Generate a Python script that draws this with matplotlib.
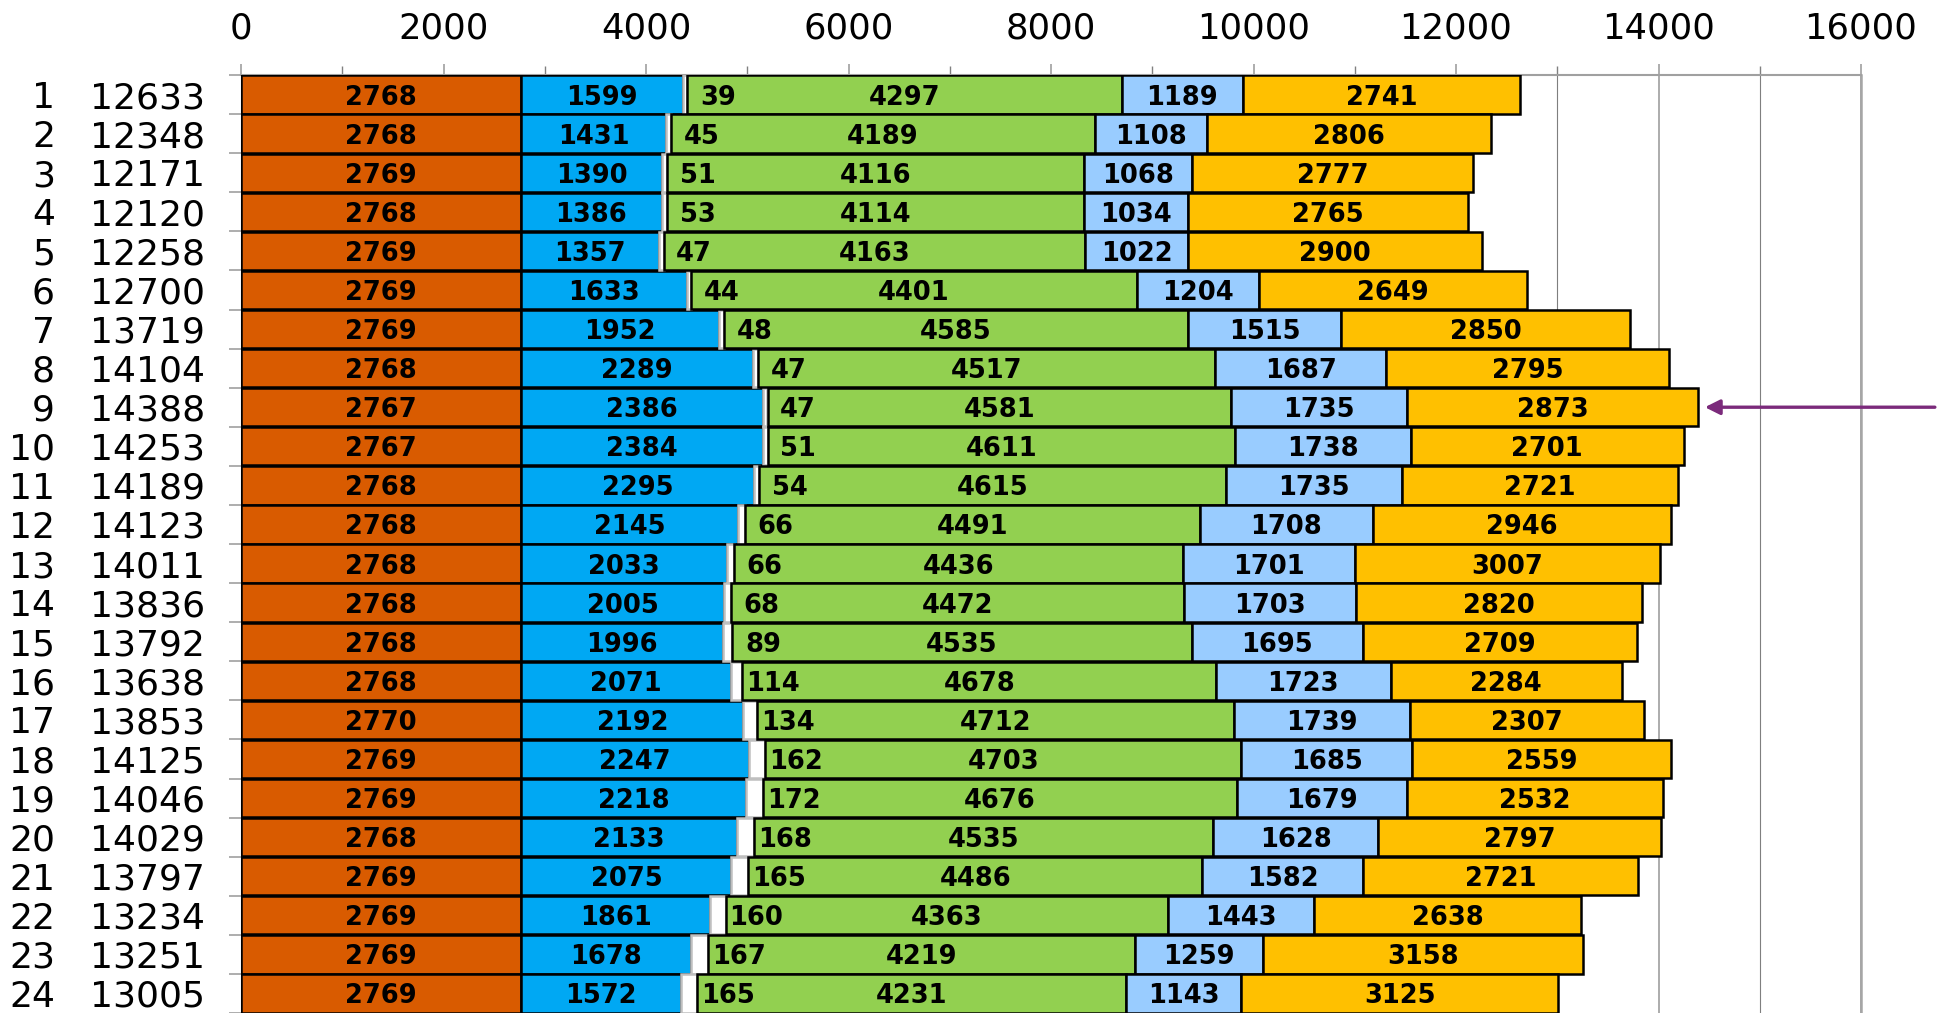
import matplotlib
matplotlib.use("Agg")
import matplotlib.pyplot as plt
from matplotlib.ticker import MultipleLocator
from matplotlib.transforms import blended_transform_factory
import numpy as np

rows = list(range(1, 25))
totals = [12633, 12348, 12171, 12120, 12258, 12700, 13719, 14104, 14388, 14253, 14189, 14123,
          14011, 13836, 13792, 13638, 13853, 14125, 14046, 14029, 13797, 13234, 13251, 13005]
orange = [2768, 2768, 2769, 2768, 2769, 2769, 2769, 2768, 2767, 2767, 2768, 2768,
          2768, 2768, 2768, 2768, 2770, 2769, 2769, 2768, 2769, 2769, 2769, 2769]
blue = [1599, 1431, 1390, 1386, 1357, 1633, 1952, 2289, 2386, 2384, 2295, 2145,
        2033, 2005, 1996, 2071, 2192, 2247, 2218, 2133, 2075, 1861, 1678, 1572]
white = [39, 45, 51, 53, 47, 44, 48, 47, 47, 51, 54, 66,
         66, 68, 89, 114, 134, 162, 172, 168, 165, 160, 167, 165]
green = [4297, 4189, 4116, 4114, 4163, 4401, 4585, 4517, 4581, 4611, 4615, 4491,
         4436, 4472, 4535, 4678, 4712, 4703, 4676, 4535, 4486, 4363, 4219, 4231]
lightblue = [1189, 1108, 1068, 1034, 1022, 1204, 1515, 1687, 1735, 1738, 1735, 1708,
             1701, 1703, 1695, 1723, 1739, 1685, 1679, 1628, 1582, 1443, 1259, 1143]
yellow = [2741, 2806, 2777, 2765, 2900, 2649, 2850, 2795, 2873, 2701, 2721, 2946,
          3007, 2820, 2709, 2284, 2307, 2559, 2532, 2797, 2721, 2638, 3158, 3125]
highlight_row = 9

series = [orange, blue, white, green, lightblue, yellow]
colors = ['#D95B00', '#00A8F3', '#FFFFFF', '#92D050', '#99CCFF', '#FFC000']
edges = ['black', 'black', '#BFBFBF', 'black', 'black', 'black']

W, H = 1948, 1013
fig = plt.figure(figsize=(W / 100, H / 100), dpi=100)
ax = fig.add_axes([241 / W, 0, 1620 / W, (H - 75) / H])

LBL = 18.5
y = np.array(rows)
left = np.zeros(len(rows))
for vals, c, ec in zip(series, colors, edges):
    v = np.array(vals, dtype=float)
    ax.barh(y, v, left=left, height=0.98, color=c, edgecolor=ec, linewidth=1.8, zorder=3)
    if c == '#FFFFFF':
        for yi, l, w in zip(y, left, v):
            ax.annotate(f"{int(w)}", xy=(l + w, yi), xytext=(22, 0), textcoords='offset points',
                        ha='center', va='center_baseline', fontsize=LBL, fontweight='bold',
                        color='black', zorder=5)
    else:
        for yi, l, w in zip(y, left, v):
            ax.text(l + w / 2, yi, f"{int(w)}", ha='center', va='center_baseline',
                    fontsize=LBL, fontweight='bold', color='black', zorder=5)
    left = left + v

ax.set_xlim(0, 16000)
ax.set_ylim(24.46, 0.5)

ax.xaxis.tick_top()
ax.xaxis.set_major_locator(MultipleLocator(2000))
ax.xaxis.set_minor_locator(MultipleLocator(1000))
ax.tick_params(axis='x', which='major', length=8, width=1.2, color='#A0A0A0', pad=13,
               labelsize=25.5, labelcolor='black')
ax.tick_params(axis='x', which='minor', length=6.5, width=1.0, color='#808080')
ax.grid(axis='x', which='major', color='#A6A6A6', linewidth=1.3, zorder=0)
ax.grid(axis='x', which='minor', color='#7F7F7F', linewidth=0.8, zorder=0)
ax.set_axisbelow(True)

ax.set_yticks(np.arange(0.5, 25, 1.0))
ax.set_yticklabels([])
ax.tick_params(axis='y', which='major', length=9, width=1.2, color='#A0A0A0', left=True)

ax.spines['bottom'].set_visible(False)
ax.spines['top'].set_color('#A0A0A0')
ax.spines['top'].set_linewidth(1.5)
ax.spines['left'].set_color('#A0A0A0')
ax.spines['right'].set_color('#A6A6A6')
ax.spines['right'].set_linewidth(1.8)

tr = blended_transform_factory(fig.transFigure, ax.transData)
for r, t in zip(rows, totals):
    ax.text(55 / W, r, str(r), transform=tr, ha='right', va='center_baseline', fontsize=26,
            color='black', clip_on=False)
    ax.text(205 / W, r, str(t), transform=tr, ha='right', va='center_baseline', fontsize=26,
            color='black', clip_on=False)

hi = highlight_row - 1
ax.annotate('', xy=(totals[hi] + 70, rows[hi]), xytext=(165.6, 0), textcoords='offset points',
            arrowprops=dict(arrowstyle='-|>,head_length=0.9,head_width=0.45', color='#7B2A7B',
                            lw=2.4, shrinkA=0, shrinkB=0),
            annotation_clip=False, zorder=6)

fig.savefig('out.png', dpi=100)
